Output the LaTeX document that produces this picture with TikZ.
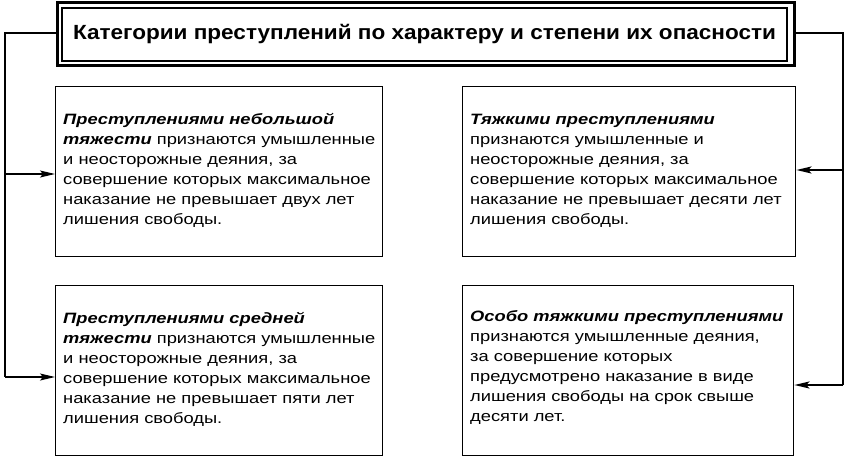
\documentclass[tikz,border=0pt]{standalone}
\usepackage{fontspec}
\setmainfont{Liberation Sans}
\newfontfamily\bodyf[FakeStretch=1.22]{Liberation Sans}
\newfontfamily\titlef[FakeStretch=1.1]{Liberation Sans}
\usetikzlibrary{arrows.meta}
\tikzset{
  catbox/.style={draw=black, line width=1.4pt, fill=white, anchor=north west,
    minimum height=170pt, inner sep=0pt},
  cattext/.style={anchor=west, inner sep=0pt, align=left,
    font=\bodyf\fontsize{15pt}{20pt}\selectfont},
  conn/.style={draw=black, line width=1.5pt},
  arr/.style={conn, -{Stealth[length=15pt,width=7pt,inset=3pt]}}
}
\newcommand{\ld}[1]{\textbf{\textit{#1}}}
\begin{document}
\begin{tikzpicture}[x=1pt,y=-1pt]
\useasboundingbox (0,0) rectangle (850,460);
\fill[white] (0,0) rectangle (850,460);
% title
\node[draw=black, line width=3pt, minimum width=737pt, minimum height=62pt, inner sep=0pt] (title) at (425.5,34) {};
\node[draw=black, line width=1.2pt, minimum width=725pt, minimum height=53pt, inner sep=0pt,
  font=\titlef\bfseries\fontsize{20.5pt}{22pt}\selectfont] (ttext) at (424.5,34.5)
  {Категории преступлений по характеру и степени их опасности};
% boxes
\node[catbox, minimum width=327pt] (a) at (55,86) {};
\node[catbox, minimum width=333pt] (b) at (462,86) {};
\node[catbox, minimum width=327pt] (c) at (55,285) {};
\node[catbox, minimum width=331pt] (d) at (462,285) {};
\node[cattext] (ta) at ([xshift=8pt,yshift=1pt]a.west) {\ld{Преступлениями небольшой}\\
\ld{тяжести} признаются умышленные\\
и неосторожные деяния, за\\
совершение которых максимальное\\
наказание не превышает двух лет\\
лишения свободы.};
\node[cattext] (tb) at ([xshift=8pt,yshift=1pt]b.west) {\ld{Тяжкими преступлениями}\\
признаются умышленные и\\
неосторожные деяния, за\\
совершение которых максимальное\\
наказание не превышает десяти лет\\
лишения свободы.};
\node[cattext] (tc) at ([xshift=8pt,yshift=1pt]c.west) {\ld{Преступлениями средней}\\
\ld{тяжести} признаются умышленные\\
и неосторожные деяния, за\\
совершение которых максимальное\\
наказание не превышает пяти лет\\
лишения свободы.};
\node[cattext] (td) at ([xshift=8pt,yshift=3pt]d.west) {\ld{Особо тяжкими преступлениями}\\
признаются умышленные деяния,\\
за совершение которых\\
предусмотрено наказание в виде\\
лишения свободы на срок свыше\\
десяти лет.};
% connectors
\coordinate (L1) at (5,33);
\coordinate (La) at (5,174);
\coordinate (Lc) at (5,377);
\coordinate (R1) at (843,33);
\coordinate (Rb) at (843,170);
\coordinate (Rd) at (843,385);
\draw[conn] (title.west |- L1) -- (L1) -- (Lc);
\draw[arr] (Lc) -- (c.west |- Lc);
\draw[arr] (La) -- (a.west |- La);
\draw[conn] (title.east |- R1) -- (R1) -- (Rd);
\draw[arr] (Rd) -- (d.east |- Rd);
\draw[arr] (Rb) -- (b.east |- Rb);
\end{tikzpicture}
\end{document}
